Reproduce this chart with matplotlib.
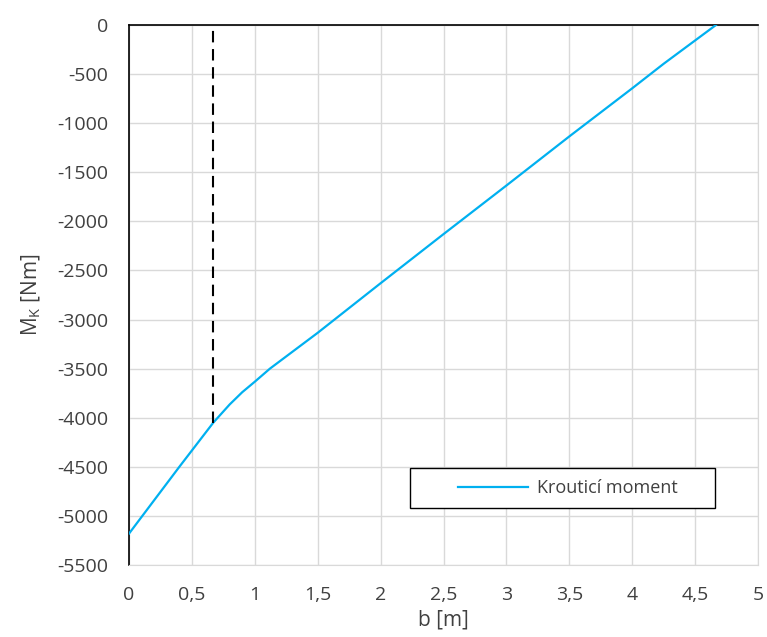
import matplotlib.pyplot as plt
from matplotlib.patches import Rectangle
from matplotlib.ticker import FuncFormatter

plt.rcParams['font.family'] = ['Open Sans', 'DejaVu Sans']
plt.rcParams['axes.unicode_minus'] = False

# průběh krouticího momentu
b = [0, 0.4, 0.67, 0.8, 0.9, 1.0, 1.12, 1.5, 2.0, 2.5, 3.0, 3.5, 4.0, 4.25, 4.666]
Mk = [-5180, -4500, -4050, -3865, -3740, -3633, -3500, -3135,
      -2630, -2130, -1635, -1135, -645, -395, 0]

b_mark = 0.67
Mk_mark = -4050

x_ticks = [0, 0.5, 1, 1.5, 2, 2.5, 3, 3.5, 4, 4.5, 5]
y_ticks = list(range(-5500, 1, 500))

fig = plt.figure(figsize=(7.67, 6.37), dpi=100)
ax = fig.add_axes([0.1682, 0.1130, 0.8201, 0.8478])

ax.plot(b, Mk, color='#00B0F0', lw=1.6, label='Krouticí moment', zorder=3)
ax.plot([b_mark, b_mark], [Mk_mark, 0], color='black', lw=1.5,
        dashes=(5.5, 3.2), zorder=4)

ax.set_xlim(0, 5)
ax.set_ylim(-5500, 0)
ax.set_xticks(x_ticks)
ax.set_yticks(y_ticks)
ax.xaxis.set_major_formatter(FuncFormatter(lambda v, p: ('%g' % v).replace('.', ',')))
ax.grid(True, color='#d9d9d9', lw=1.0, zorder=0)
ax.tick_params(length=0, labelsize=14, colors='#404040')
ax.tick_params(axis='x', pad=15)
ax.tick_params(axis='y', pad=15)

for s in ['bottom', 'right']:
    ax.spines[s].set_color('#d9d9d9')
for s in ['left', 'top']:
    ax.spines[s].set_color('black')
    ax.spines[s].set_linewidth(1.2)

ax.set_xlabel('b [m]', fontsize=15, color='#404040', labelpad=4)
ax.set_ylabel(r'M$_\mathregular{K}$ [Nm]', fontsize=15, color='#404040', labelpad=10)

# rámeček legendy
ax.add_patch(Rectangle((0.447, 0.1056), 0.485, 0.074, transform=ax.transAxes,
                       facecolor='white', edgecolor='black', lw=1.0, zorder=5))
leg = ax.legend(loc='center', bbox_to_anchor=(0.698, 0.1426), fontsize=13,
                frameon=False, handlelength=3.9, handletextpad=0.5,
                borderaxespad=0)
leg.set_zorder(6)
for t in leg.get_texts():
    t.set_color('#404040')

fig.savefig('out.png', dpi=100)
